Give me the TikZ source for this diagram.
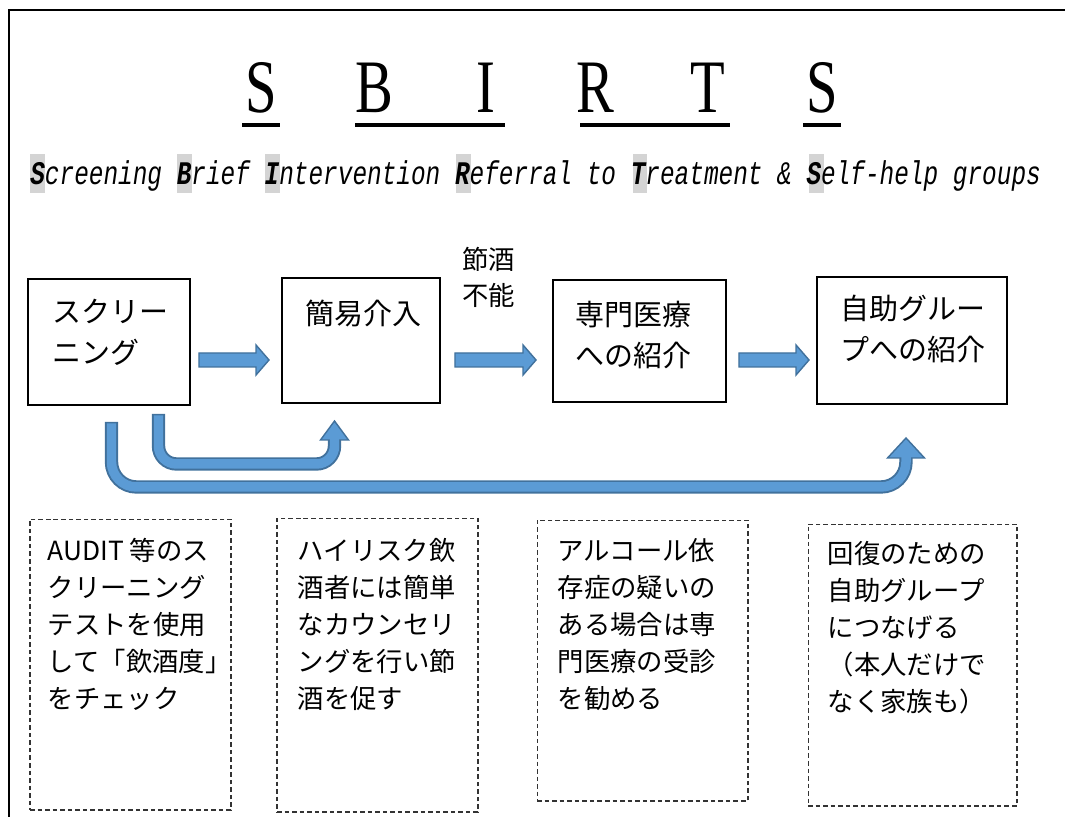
\documentclass[tikz,border=0pt]{standalone}
\usepackage{fontspec}
\setmainfont{Liberation Serif}
\newfontfamily\jpfont{Noto Sans CJK JP}
\newfontfamily\subfont{Liberation Mono}
\usetikzlibrary{calc}
\definecolor{arrowfill}{RGB}{91,155,213}
\definecolor{arrowedge}{RGB}{65,113,156}
\def\ttl#1{\scalebox{0.75}[1]{#1}}
\def\flatarrow(#1)(#2){\draw[blockarrow] ($(#1)+(0,-7)$) -- ($(#2)+(-13,-7)$) -- ($(#2)+(-13,-15)$) -- (#2) -- ($(#2)+(-13,15)$) -- ($(#2)+(-13,7)$) -- ($(#1)+(0,7)$) -- cycle;}
\tikzset{
  stage/.style={draw, line width=1.3pt, inner sep=0pt, outer sep=0pt},
  stagetext/.style={font=\jpfont\fontsize{16.5}{23.3}\selectfont, align=left, inner sep=0pt, anchor=base west},
  notebox/.style={draw=black!80, line width=0.6pt, dash pattern=on 2.6pt off 1.7pt, inner sep=0pt},
  notetext/.style={font=\jpfont\fontsize{15}{21}\selectfont, align=left, inner sep=0pt, anchor=base west},
  titleletter/.style={font=\fontsize{43}{43}\selectfont, inner sep=0pt, anchor=base},
  titlerule/.style={line width=2.3pt},
  hilite/.style={fill=black!17},
  blockarrow/.style={fill=arrowfill, draw=arrowedge, line width=0.8pt, line join=miter},
  bendedge/.style={draw=arrowedge, line width=7.6pt, rounded corners=#1},
  bendcore/.style={draw=arrowfill, line width=5.4pt, rounded corners=#1},
}
\begin{document}
\begin{tikzpicture}[x=0.02cm, y=-0.02cm]
			%%%%% START %%%%%
			\useasboundingbox (0,0) rectangle (1065,817);
			\draw[line width=1.2pt] (9,817) -- (9,10) -- (1065,10);
			
			% title
			\node[titleletter] (tS1) at (261,113) {\ttl{S}};
			\node[titleletter] (tB) at (374,113) {\ttl{B}};
			\node[titleletter] (tI) at (486,113) {\ttl{I}};
			\node[titleletter] (tR) at (595,113) {\ttl{R}};
			\node[titleletter] (tT) at (708,113) {\ttl{T}};
			\node[titleletter] (tS2) at (822,113) {\ttl{S}};
			\draw[titlerule] (242,125) -- (280,125);
			\draw[titlerule] (355,125) -- (505,125);
			\draw[titlerule] (580,125) -- (730,125);
			\draw[titlerule] (803,125) -- (841,125);
			
			\foreach \k in {0,10,16,29,41,53}
				\fill[hilite] ({30+14.7*\k},154) rectangle ++(14.7,39);
			\node[anchor=base west, inner sep=0pt, font=\subfont\itshape\fontsize{13.89}{14}\selectfont] (subtitle) at (30,185)
				{\scalebox{1}[1.35]{\textbf{S}creening \textbf{B}rief \textbf{I}ntervention \textbf{R}eferral to \textbf{T}reatment \& \textbf{S}elf-help groups}};
			
			% stages
			\node[stage, minimum width=3.24cm, minimum height=2.52cm] (scr) at (109,342) {};
			\node[stage, minimum width=3.16cm, minimum height=2.5cm] (bi) at (361,340.5) {};
			\node[stage, minimum width=3.46cm, minimum height=2.44cm] (ss) at (639.5,341) {};
			\node[stage, minimum width=3.8cm, minimum height=2.54cm] (sh) at (912,340.5) {};
			\node[stagetext] (scrtxt) at ($(scr.north west)+(24,84)$) {スクリー\\ニング};
			\node[stagetext] (bitxt) at ($(bi.north west)+(23,46)$) {簡易介入};
			\node[stagetext] (sstxt) at ($(ss.north west)+(22,86)$) {専門医療\\への紹介};
			\node[stagetext] (shtxt) at ($(sh.north west)+(23,83)$) {自助グルー\\プへの紹介};
			\node[notetext] (cutfail) at (462,306) {節酒\\不能};
			
			\coordinate (a1s) at ($(scr.east)+(9,18)$);
			\coordinate (a1e) at ($(bi.west)+(-13,19.5)$);
			\coordinate (a2s) at ($(bi.east)+(15,19.5)$);
			\coordinate (a2e) at ($(ss.west)+(-17,19)$);
			\coordinate (a3s) at ($(ss.east)+(13,19)$);
			\coordinate (a3e) at ($(sh.west)+(-8,19.5)$);
			\flatarrow(a1s)(a1e)
			\flatarrow(a2s)(a2e)
			\flatarrow(a3s)(a3e)
			
			% bent arrows
			\coordinate (in0) at ($(scr.south)+(49.5,9)$);
			\coordinate (in1) at ($(bi.south)+(-26.5,18)$);
			\draw[bendedge=0.36cm] (in0) -- ++(0,50) -| ($(in1)+(0,19)$);
			\draw[blockarrow] ($(in1)+(-14,19)$) -- (in1) -- ($(in1)+(14,19)$) -- cycle;
			\draw[bendcore=0.36cm] ($(in0)+(0,1.5)$) -- ++(0,48.5) -| ($(in1)+(0,17)$);
			
			\coordinate (out0) at ($(scr.south)+(2.5,17)$);
			\coordinate (out1) at ($(sh.south)+(-6,34)$);
			\draw[bendedge=0.5cm] (out0) -- ++(0,65) -| ($(out1)+(0,20)$);
			\draw[blockarrow] ($(out1)+(-18.5,20)$) -- (out1) -- ($(out1)+(18.5,20)$) -- cycle;
			\draw[bendcore=0.5cm] ($(out0)+(0,1.5)$) -- ++(0,63.5) -| ($(out1)+(0,18)$);
			
			% notes
			\node[notebox, minimum width=4.02cm, minimum height=5.82cm] (n1) at (130.5,664.5) {};
			\node[notebox, minimum width=4.02cm, minimum height=5.88cm] (n2) at (377.5,665) {};
			\node[notebox, minimum width=4.22cm, minimum height=5.62cm] (n3) at (642.5,660.5) {};
			\node[notebox, minimum width=4.18cm, minimum height=5.64cm] (n4) at (912.5,665) {};
			\node[notetext] (n1txt) at ($(n1.north west)+(18,190)$) {AUDIT 等のス\\クリーニング\\テストを使用\\して「飲酒度」\\をチェック};
			\node[notetext] (n2txt) at ($(n2.north west)+(21,191)$) {ハイリスク飲\\酒者には簡単\\なカウンセリ\\ングを行い節\\酒を促す};
			\node[notetext] (n3txt) at ($(n3.north west)+(21,189)$) {アルコール依\\存症の疑いの\\ある場合は専\\門医療の受診\\を勧める};
			\node[notetext] (n4txt) at ($(n4.north west)+(20,188)$) {回復のための\\自助グループ\\につなげる\\（本人だけで\\なく家族も）};
			
			%%%%% END %%%%%
\end{tikzpicture}
\end{document}
